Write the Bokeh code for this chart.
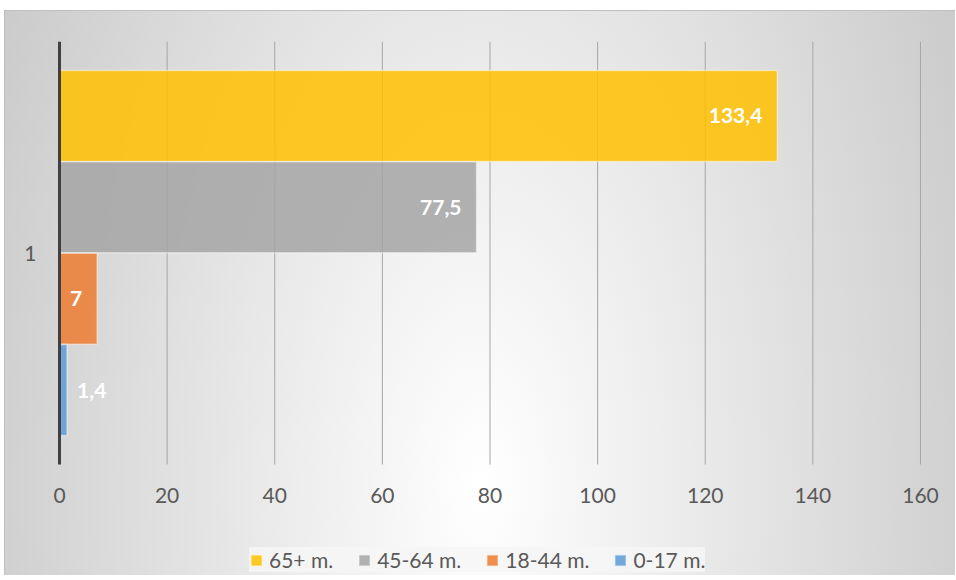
from bokeh.plotting import figure
from bokeh.models import Range1d, Legend, LegendItem, ColumnDataSource, LinearAxis, FixedTicker
from bokeh.core.properties import value
from bokeh.embed import file_html
from bokeh.resources import INLINE

categories = ["1"]
series_names = ["65+ m.", "45-64 m.", "18-44 m.", "0-17 m."]
series_values = [133.4, 77.5, 7, 1.4]
series_colors = ["#FFC000", "#A5A5A5", "#ED7D31", "#5B9BD5"]
x_ticks = [0, 20, 40, 60, 80, 100, 120, 140, 160]

FONT = "Lato"
TXT = "#595959"

# category band occupies y in [0, 1]; area below holds the legend
cat_pos = [i + 0.5 for i in range(len(categories))]

p = figure(
    width=950,
    y_range=Range1d(-0.2624, 1.0),
    x_range=Range1d(-2.6016, 164.6458),
    output_backend="svg", toolbar_location=None,
    min_border_left=40, min_border_right=10, min_border_top=30, min_border_bottom=0,
)
p.frame_width = 900
p.frame_height = 534
p.background_fill_alpha = 0
p.border_fill_alpha = 0
p.outline_line_color = None
p.styles = {
    "margin-left": "4px",
    "margin-top": "10px",
    "background": "radial-gradient(ellipse 606px 1206px at 476px 474px, #ffffff 0%, #c4c4c4 100%)",
    "border-top": "1px solid #bfbfbf",
    "border-left": "1px solid #bfbfbf",
}

# vertical gridlines within the category band
p.xgrid.grid_line_color = None
p.ygrid.grid_line_color = None
p.segment(x0=x_ticks, y0=[0] * len(x_ticks), x1=x_ticks, y1=[1] * len(x_ticks),
          line_color="#a6a6a6", line_width=1)

offsets = [0.324, 0.108, -0.108, -0.324]
bar_h = 0.215
renderers = []
for name, val, col, off in zip(series_names, series_values, series_colors, offsets):
    ys = [c + off for c in cat_pos]
    src = ColumnDataSource(dict(y=ys, v=[val],
                                lab=[f"{val:g}".replace(".", ",")]))
    r = p.hbar(y="y", right="v", left=0, height=bar_h,
               source=src, fill_color=col, fill_alpha=0.85,
               line_color="white", line_alpha=0.45, line_width=1.5)
    renderers.append((name, r))
    inside = val > 5
    p.text(x="v", y="y", text="lab", source=src,
           text_align="right" if inside else "left",
           x_offset=-15 if inside else 10,
           text_baseline="middle", text_color="white", text_font=value(FONT),
           text_font_size="21px", text_font_style="bold")

# x axis, drawn at the bottom of the category band
p.xaxis.ticker = x_ticks
p.xaxis.fixed_location = 0
p.xaxis.axis_line_color = None
p.xaxis.major_tick_line_color = None
p.xaxis.minor_tick_line_color = None
p.xaxis.major_tick_out = 0
p.xaxis.major_tick_in = 0
p.xaxis.minor_tick_out = 0
p.xaxis.major_label_standoff = 23
p.xaxis.major_label_text_font = FONT
p.xaxis.major_label_text_font_size = "21px"
p.xaxis.major_label_text_color = TXT

# y axis line at x = 0, bounded to the category band
p.yaxis.ticker = cat_pos
p.yaxis.fixed_location = 0
p.yaxis.bounds = (0, len(categories))
p.yaxis.axis_line_color = "#404040"
p.yaxis.axis_line_width = 3
p.yaxis.major_tick_line_color = None
p.yaxis.minor_tick_line_color = None
p.yaxis.major_tick_out = 0
p.yaxis.major_tick_in = 0
p.yaxis.minor_tick_out = 0
p.yaxis.major_label_standoff = 0
p.yaxis.major_label_text_font_size = "0px"
p.yaxis.major_label_text_alpha = 0

# category labels
cat_axis = LinearAxis(
    ticker=FixedTicker(ticks=cat_pos),
    major_label_overrides={c: lab for c, lab in zip(cat_pos, categories)},
    axis_line_color=None, major_tick_line_color=None, minor_tick_line_color=None,
    major_tick_out=0, major_tick_in=0, minor_tick_out=0,
    major_label_standoff=9,
    major_label_text_font=FONT, major_label_text_font_size="21px",
    major_label_text_color=TXT,
)
p.add_layout(cat_axis, "left")

legend = Legend(
    items=[LegendItem(label=n, renderers=[r]) for n, r in renderers],
    orientation="horizontal",
    location=(204, 3),
    label_text_font=FONT, label_text_font_size="21px", label_text_color=TXT,
    glyph_width=14, glyph_height=14,
    spacing=24, label_standoff=6,
    padding=11, margin=0,
    background_fill_color="#f6f6f6", background_fill_alpha=0.85,
    border_line_color=None,
)
p.add_layout(legend, "center")

open("out.html", "w").write(file_html(p, INLINE))
